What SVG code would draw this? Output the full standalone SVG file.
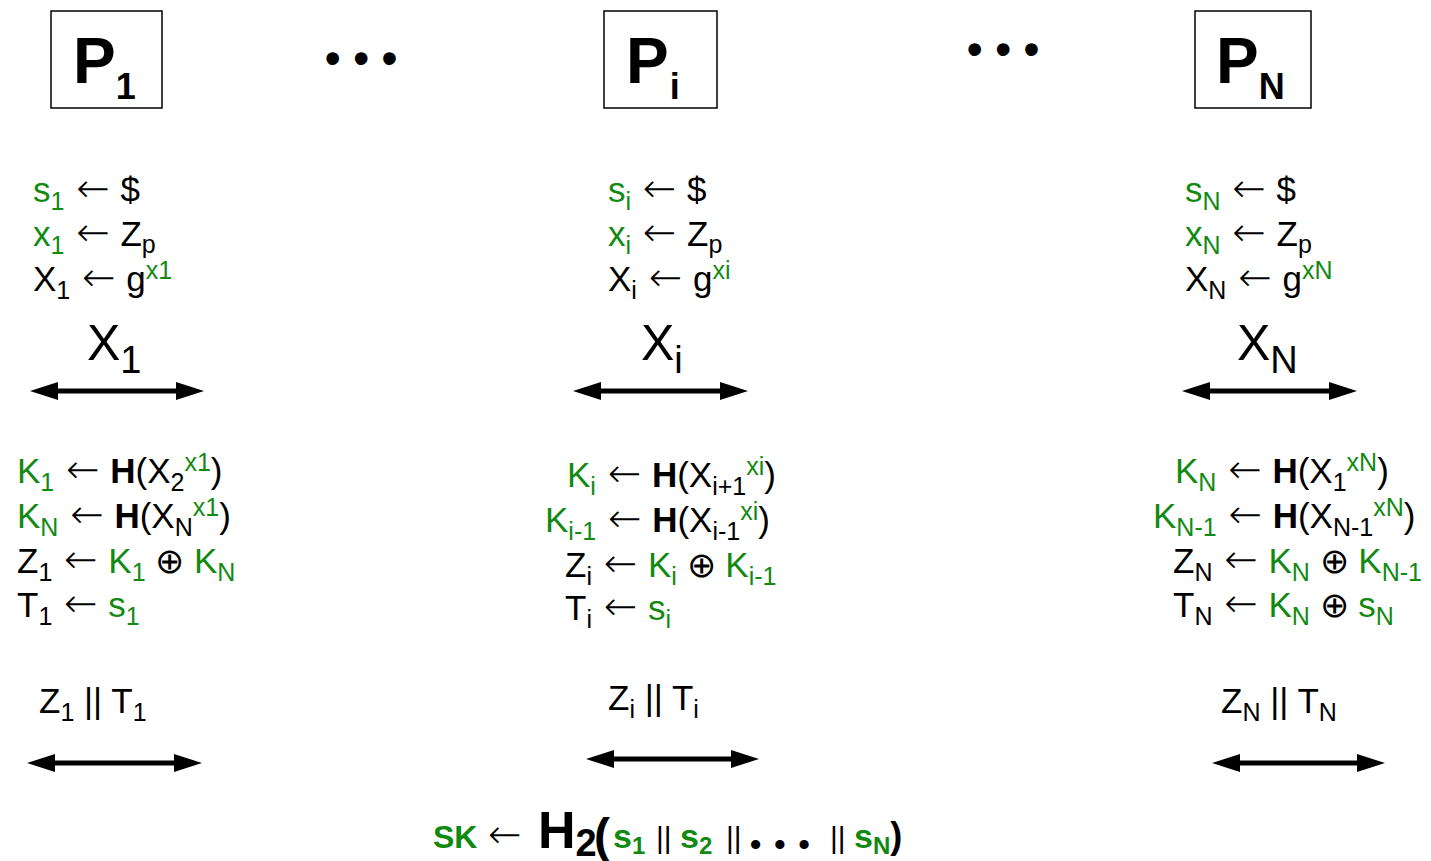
<svg xmlns="http://www.w3.org/2000/svg" width="1431" height="861" viewBox="0 0 1431 861">
<style>
text{font-family:"Liberation Sans",Arial,sans-serif;font-size:35px;fill:#000}
.g{fill:#128a12}
.s{font-size:25px}
.b{font-weight:bold}
.ar{font-family:"DejaVu Sans ExtraLight","DejaVu Sans",sans-serif;font-size:40px;font-weight:200}
.big{font-size:50px}
.bs{font-size:38px}
.pl{font-size:64px;font-weight:bold}
.ps{font-size:36px;font-weight:bold}
.box{fill:#fff;stroke:#000;stroke-width:1.5}
.con{stroke:#000;stroke-width:5;fill:none;marker-start:url(#ah);marker-end:url(#ah)}
.dots{font-size:44px;font-weight:bold;letter-spacing:13px}
</style>
<defs>
<marker id="ah" viewBox="0 0 28 18" refX="18" refY="9" markerWidth="28" markerHeight="18" orient="auto-start-reverse" markerUnits="userSpaceOnUse"><path d="M0,0 L28,9 L0,18 Z" fill="#000"/></marker>
</defs>
<rect width="1431" height="861" fill="#fff"/>

<g id="P1">
<rect class="box" x="51" y="11" width="111" height="97"/>
<text x="73" y="83"><tspan class="pl">P</tspan><tspan class="ps" dy="16">1</tspan></text>
</g>
<g id="Pi">
<rect class="box" x="604" y="11" width="113" height="97"/>
<text x="626" y="83"><tspan class="pl">P</tspan><tspan class="ps" dx="1" dy="16">i</tspan></text>
</g>
<g id="PN">
<rect class="box" x="1195" y="11" width="116" height="97"/>
<text x="1216" y="83"><tspan class="pl">P</tspan><tspan class="ps" dy="16">N</tspan></text>
</g>
<g id="dots1"><text class="dots" x="325" y="73">•••</text></g>
<g id="dots2"><text class="dots" x="967" y="64">•••</text></g>

<g id="P1-compute1">
<text x="33" y="202"><tspan class="g">s</tspan><tspan class="g s" dy="8">1</tspan><tspan dy="-8"> </tspan><tspan class="ar" dx="2">←</tspan><tspan dx="1"> $</tspan></text>
<text x="33" y="246"><tspan class="g">x</tspan><tspan class="g s" dy="8">1</tspan><tspan dy="-8"> </tspan><tspan class="ar" dx="2">←</tspan><tspan dx="1"> Z</tspan><tspan class="s" dy="7">p</tspan></text>
<text x="33" y="291">X<tspan class="s" dy="8">1</tspan><tspan dy="-8"> </tspan><tspan class="ar" dx="2">←</tspan><tspan dx="1"> g</tspan><tspan class="g s" dy="-12">x1</tspan></text>
</g>
<g id="Pi-compute1">
<text x="608" y="202"><tspan class="g">s</tspan><tspan class="g s" dy="8">i</tspan><tspan dy="-8"> </tspan><tspan class="ar" dx="2">←</tspan><tspan dx="1"> $</tspan></text>
<text x="608" y="246"><tspan class="g">x</tspan><tspan class="g s" dy="8">i</tspan><tspan dy="-8"> </tspan><tspan class="ar" dx="2">←</tspan><tspan dx="1"> Z</tspan><tspan class="s" dy="7">p</tspan></text>
<text x="608" y="291">X<tspan class="s" dy="8">i</tspan><tspan dy="-8"> </tspan><tspan class="ar" dx="2">←</tspan><tspan dx="1"> g</tspan><tspan class="g s" dy="-12">xi</tspan></text>
</g>
<g id="PN-compute1">
<text x="1185" y="202"><tspan class="g">s</tspan><tspan class="g s" dy="8">N</tspan><tspan dy="-8"> </tspan><tspan class="ar" dx="2">←</tspan><tspan dx="1"> $</tspan></text>
<text x="1185" y="246"><tspan class="g">x</tspan><tspan class="g s" dy="8">N</tspan><tspan dy="-8"> </tspan><tspan class="ar" dx="2">←</tspan><tspan dx="1"> Z</tspan><tspan class="s" dy="7">p</tspan></text>
<text x="1185" y="291">X<tspan class="s" dy="8">N</tspan><tspan dy="-8"> </tspan><tspan class="ar" dx="2">←</tspan><tspan dx="1"> g</tspan><tspan class="g s" dy="-12">xN</tspan></text>
</g>

<g id="P1-compute2">
<text x="17" y="483"><tspan class="g">K</tspan><tspan class="g s" dy="8">1</tspan><tspan dy="-8"> </tspan><tspan class="ar" dx="2">←</tspan><tspan dx="1"> </tspan><tspan class="b">H</tspan>(X<tspan class="s" dy="8">2</tspan><tspan class="g s" dy="-20">x1</tspan><tspan dy="12">)</tspan></text>
<text x="17" y="528"><tspan class="g">K</tspan><tspan class="g s" dy="8">N</tspan><tspan dy="-8"> </tspan><tspan class="ar" dx="2">←</tspan><tspan dx="1"> </tspan><tspan class="b">H</tspan>(X<tspan class="s" dy="8">N</tspan><tspan class="g s" dy="-20">x1</tspan><tspan dy="12">)</tspan></text>
<text x="17" y="573">Z<tspan class="s" dy="8">1</tspan><tspan dy="-8"> </tspan><tspan class="ar" dx="2">←</tspan><tspan dx="1"> </tspan><tspan class="g">K</tspan><tspan class="g s" dy="8">1</tspan><tspan dy="-8"> ⊕ </tspan><tspan class="g">K</tspan><tspan class="g s" dy="8">N</tspan></text>
<text x="17" y="617">T<tspan class="s" dy="8">1</tspan><tspan dy="-8"> </tspan><tspan class="ar" dx="2">←</tspan><tspan dx="1"> </tspan><tspan class="g">s</tspan><tspan class="g s" dy="8">1</tspan></text>
</g>
<g id="Pi-compute2">
<text x="567" y="487"><tspan class="g">K</tspan><tspan class="g s" dy="8">i</tspan><tspan dy="-8"> </tspan><tspan class="ar" dx="2">←</tspan><tspan dx="1"> </tspan><tspan class="b">H</tspan>(X<tspan class="s" dy="8">i+1</tspan><tspan class="g s" dy="-20">xi</tspan><tspan dy="12">)</tspan></text>
<text x="545" y="532"><tspan class="g">K</tspan><tspan class="g s" dy="8">i-1</tspan><tspan dy="-8"> </tspan><tspan class="ar" dx="2">←</tspan><tspan dx="1"> </tspan><tspan class="b">H</tspan>(X<tspan class="s" dy="8">i-1</tspan><tspan class="g s" dy="-20">xi</tspan><tspan dy="12">)</tspan></text>
<text x="565" y="577">Z<tspan class="s" dy="8">i</tspan><tspan dy="-8"> </tspan><tspan class="ar" dx="2">←</tspan><tspan dx="1"> </tspan><tspan class="g">K</tspan><tspan class="g s" dy="8">i</tspan><tspan dy="-8"> ⊕ </tspan><tspan class="g">K</tspan><tspan class="g s" dy="8">i-1</tspan></text>
<text x="565" y="620">T<tspan class="s" dy="8">i</tspan><tspan dy="-8"> </tspan><tspan class="ar" dx="2">←</tspan><tspan dx="1"> </tspan><tspan class="g">s</tspan><tspan class="g s" dy="8">i</tspan></text>
</g>
<g id="PN-compute2">
<text x="1175" y="483"><tspan class="g">K</tspan><tspan class="g s" dy="8">N</tspan><tspan dy="-8"> </tspan><tspan class="ar" dx="2">←</tspan><tspan dx="1"> </tspan><tspan class="b">H</tspan>(X<tspan class="s" dy="8">1</tspan><tspan class="g s" dy="-20">xN</tspan><tspan dy="12">)</tspan></text>
<text x="1153" y="528"><tspan class="g">K</tspan><tspan class="g s" dy="8">N-1</tspan><tspan dy="-8"> </tspan><tspan class="ar" dx="2">←</tspan><tspan dx="1"> </tspan><tspan class="b">H</tspan>(X<tspan class="s" dy="8">N-1</tspan><tspan class="g s" dy="-20">xN</tspan><tspan dy="12">)</tspan></text>
<text x="1173" y="573">Z<tspan class="s" dy="8">N</tspan><tspan dy="-8"> </tspan><tspan class="ar" dx="2">←</tspan><tspan dx="1"> </tspan><tspan class="g">K</tspan><tspan class="g s" dy="8">N</tspan><tspan dy="-8"> ⊕ </tspan><tspan class="g">K</tspan><tspan class="g s" dy="8">N-1</tspan></text>
<text x="1173" y="617">T<tspan class="s" dy="8">N</tspan><tspan dy="-8"> </tspan><tspan class="ar" dx="2">←</tspan><tspan dx="1"> </tspan><tspan class="g">K</tspan><tspan class="g s" dy="8">N</tspan><tspan dy="-8"> ⊕ </tspan><tspan class="g">s</tspan><tspan class="g s" dy="8">N</tspan></text>
</g>

<g id="labels">
<text x="87" y="360"><tspan class="big">X</tspan><tspan class="bs" dy="13">1</tspan></text>
<text x="641" y="360"><tspan class="big">X</tspan><tspan class="bs" dy="13">i</tspan></text>
<text x="1237" y="360"><tspan class="big">X</tspan><tspan class="bs" dy="13">N</tspan></text>
<text x="39" y="713">Z<tspan class="s" dy="8">1</tspan><tspan dy="-8"> || T</tspan><tspan class="s" dy="8">1</tspan></text>
<text x="608" y="710">Z<tspan class="s" dy="8">i</tspan><tspan dy="-8"> || T</tspan><tspan class="s" dy="8">i</tspan></text>
<text x="1221" y="713">Z<tspan class="s" dy="8">N</tspan><tspan dy="-8"> || T</tspan><tspan class="s" dy="8">N</tspan></text>
</g>

<g id="connectors">
<line class="con" x1="40" y1="391" x2="194" y2="391"/>
<line class="con" x1="583" y1="391" x2="738" y2="391"/>
<line class="con" x1="1192" y1="391" x2="1347" y2="391"/>
<line class="con" x1="37" y1="763" x2="192" y2="763"/>
<line class="con" x1="596" y1="759" x2="749" y2="759"/>
<line class="con" x1="1222" y1="763" x2="1375" y2="763"/>
</g>

<g id="SK">
<text x="433" y="848"><tspan class="g b" font-size="32">SK</tspan><tspan x="488" class="ar" font-size="36">←</tspan><tspan x="538" class="b" font-size="52">H</tspan><tspan class="b" font-size="38" dy="8">2</tspan><tspan x="594" class="b" font-size="48" dy="-4">(</tspan><tspan x="613" dy="-4" class="g b" font-size="34">s</tspan><tspan class="g b" font-size="24" dy="6">1</tspan><tspan x="656" dy="-6" font-size="30">||</tspan><tspan x="680" class="g b" font-size="34">s</tspan><tspan class="g b" font-size="24" dy="6">2</tspan><tspan x="726" dy="-6" font-size="30">||</tspan><tspan x="750" dy="7" class="b" font-size="32" letter-spacing="13">•••</tspan><tspan x="830" dy="-7" font-size="30">||</tspan><tspan x="854" class="g b" font-size="34">s</tspan><tspan class="g b" font-size="24" dy="6">N</tspan><tspan class="b" font-size="36" dy="-6">)</tspan></text>
</g>
</svg>
